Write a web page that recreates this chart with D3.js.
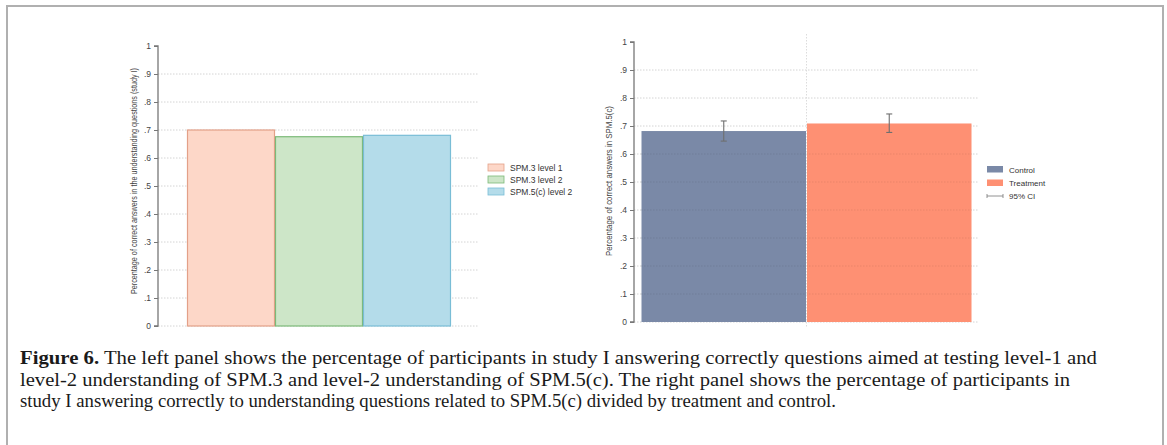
<!DOCTYPE html>
<html>
<head>
<meta charset="utf-8">
<script src="https://cdn.jsdelivr.net/npm/d3@7"></script>
<style>
  body { margin: 0; background: #fff; }
  svg { display: block; }
</style>
</head>
<body>
<svg id="chart" width="1167" height="445"></svg>
<script>
// data
const yTicks = [0, 0.1, 0.2, 0.3, 0.4, 0.5, 0.6, 0.7, 0.8, 0.9, 1];
const leftCats = ["SPM.3 level 1", "SPM.3 level 2", "SPM.5(c) level 2"];
const leftValues = [0.700, 0.676, 0.681];
const rightCats = ["Control", "Treatment"];
const rightValues = [0.682, 0.709];
const rightLow = [0.646, 0.677];
const rightHigh = [0.718, 0.743];
const captionLines = [
  ["Figure 6.", " The left panel shows the percentage of participants in study I answering correctly questions aimed at testing level-1 and"],
  ["", "level-2 understanding of SPM.3 and level-2 understanding of SPM.5(c). The right panel shows the percentage of participants in"],
  ["", "study I answering correctly to understanding questions related to SPM.5(c) divided by treatment and control."]
];

const leftFill = ["#fdd7c8", "#cde6c8", "#b4dcea"];
const leftStroke = ["#e3a088", "#7cb978", "#79bdd6"];
const rightFill = ["#7a89a7", "#fe9073"];

const svg = d3.select("#chart");
const font = "'Liberation Sans', Arial, sans-serif";

// outer frame
svg.append("rect")
  .attr("x", 7).attr("y", 6).attr("width", 1156).attr("height", 460)
  .attr("fill", "none").attr("stroke", "#b0b0b0").attr("stroke-width", 2);

const fmt = d => d === 0 ? "0" : d === 1 ? "1" : d3.format(".1f")(d).replace(/^0/, "");

function panel(opts) {
  const g = svg.append("g");
  const y = d3.scaleLinear().domain([0, 1]).range([opts.y0, opts.y1]);
  const x = d3.scaleBand().domain(opts.cats).range([opts.bx0, opts.bx1]).padding(0);

  // grid
  const grid = g.append("g");
  grid.selectAll("line").data(yTicks.filter(d => d < 1)).join("line")
    .attr("x1", opts.ax).attr("x2", opts.gx)
    .attr("y1", d => y(d)).attr("y2", d => y(d))
    .attr("stroke", "#d4d4d4").attr("stroke-width", 1).attr("stroke-dasharray", "1.5,1.5");

  // bars
  g.selectAll("rect.bar").data(opts.cats).join("rect")
    .attr("class", "bar")
    .attr("x", d => x(d) + 0.5)
    .attr("y", (d, i) => y(opts.values[i]))
    .attr("width", x.bandwidth() - 1)
    .attr("height", (d, i) => y(0) - y(opts.values[i]))
    .attr("fill", (d, i) => opts.fill[i])
    .attr("stroke", (d, i) => opts.stroke ? opts.stroke[i] : "none")
    .attr("stroke-width", 1.2);

  // axis
  const axis = g.append("g")
    .attr("transform", `translate(${opts.ax},0)`)
    .call(d3.axisLeft(y).tickValues(yTicks).tickFormat(fmt).tickSize(4).tickPadding(3));
  axis.select(".domain").attr("stroke", "#777").attr("stroke-width", 1.3).attr("d", `M-4,${y(1)}H0V${y(0)}H-4`);
  axis.selectAll(".tick line").attr("stroke", "#777");
  axis.selectAll(".tick text").attr("fill", "#444").style("font-family", font).style("font-size", "8.5px");

  // y label
  g.append("text")
    .attr("transform", `translate(${opts.lx},${opts.lc}) rotate(-90)`)
    .attr("text-anchor", "middle")
    .attr("fill", "#444").style("font-family", font).style("font-size", "8.5px")
    .attr("textLength", opts.lw).attr("lengthAdjust", "spacingAndGlyphs")
    .text(opts.label);

  return { g, x, y };
}

// left panel
panel({
  cats: leftCats, values: leftValues, fill: leftFill, stroke: leftStroke,
  y0: 326, y1: 46, ax: 158, gx: 479, bx0: 187, bx1: 451, lx: 137, lc: 181, lw: 226,
  label: "Percentage of correct answers in the understanding questions (study I)"
});

const leg1 = svg.append("g").selectAll("g").data(leftCats).join("g")
  .attr("transform", (d, i) => `translate(488,${164 + i * 12})`);
leg1.append("rect").attr("width", 16).attr("height", 7)
  .attr("fill", (d, i) => leftFill[i]).attr("stroke", (d, i) => leftStroke[i]).attr("stroke-width", 0.8);
leg1.append("text").attr("x", 22).attr("y", 6.5)
  .attr("fill", "#333").style("font-family", font).style("font-size", "8.5px").text(d => d);

// right panel
const rp = panel({
  cats: rightCats, values: rightValues, fill: rightFill, stroke: null,
  y0: 322, y1: 42, ax: 634, gx: 978, bx0: 641, bx1: 972, lx: 612, lc: 181, lw: 150,
  label: "Percentage of correct answers in SPM.5(c)"
});

// grid showing faintly over bars
rp.g.append("g").selectAll("line").data(yTicks.filter(d => d > 0 && d < 0.7)).join("line")
  .attr("x1", 641).attr("x2", 972)
  .attr("y1", d => rp.y(d)).attr("y2", d => rp.y(d))
  .attr("stroke", "#000").attr("stroke-opacity", 0.08).attr("stroke-dasharray", "1.5,1.5");

// vertical divider between bars
rp.g.append("line")
  .attr("x1", rp.x("Treatment")).attr("x2", rp.x("Treatment"))
  .attr("y1", 34).attr("y2", 328)
  .attr("stroke", "#dcdcdc").attr("stroke-dasharray", "1.5,1.5");

// confidence intervals
const ci = rp.g.append("g").attr("stroke", "#6f6f6f").attr("stroke-width", 1.1);
rightCats.forEach((c, i) => {
  const cx = rp.x(c) + rp.x.bandwidth() / 2;
  ci.append("line").attr("x1", cx).attr("x2", cx).attr("y1", rp.y(rightHigh[i])).attr("y2", rp.y(rightLow[i]));
  ci.append("line").attr("x1", cx - 3).attr("x2", cx + 3).attr("y1", rp.y(rightHigh[i])).attr("y2", rp.y(rightHigh[i]));
  ci.append("line").attr("x1", cx - 3).attr("x2", cx + 3).attr("y1", rp.y(rightLow[i])).attr("y2", rp.y(rightLow[i]));
});

const leg2 = svg.append("g").attr("transform", "translate(987,166)");
rightCats.forEach((c, i) => {
  leg2.append("rect").attr("y", i * 13.5).attr("width", 16).attr("height", 6.5).attr("fill", rightFill[i]);
  leg2.append("text").attr("x", 22).attr("y", i * 13.5 + 6.5)
    .attr("fill", "#333").style("font-family", font).style("font-size", "8px").text(c);
});
const ciLeg = leg2.append("g").attr("stroke", "#777").attr("stroke-width", 0.8);
ciLeg.append("line").attr("x1", 0).attr("x2", 16).attr("y1", 30).attr("y2", 30);
ciLeg.append("line").attr("x1", 0).attr("x2", 0).attr("y1", 28).attr("y2", 32);
ciLeg.append("line").attr("x1", 16).attr("x2", 16).attr("y1", 28).attr("y2", 32);
leg2.append("text").attr("x", 22).attr("y", 33)
  .attr("fill", "#333").style("font-family", font).style("font-size", "8px").text("95% CI");

// caption
const capWidths = [1077, 1050, 816];
captionLines.forEach((parts, i) => {
  const t = svg.append("text")
    .attr("x", 20).attr("y", 364 + i * 21.5)
    .attr("fill", "#1a1a1a")
    .style("font-family", "'Liberation Serif', 'DejaVu Serif', serif")
    .style("font-size", "18px")
    .attr("textLength", capWidths[i]).attr("lengthAdjust", "spacingAndGlyphs");
  if (parts[0]) t.append("tspan").attr("font-weight", "bold").text(parts[0]);
  t.append("tspan").text(parts[1]);
});
</script>
</body>
</html>
